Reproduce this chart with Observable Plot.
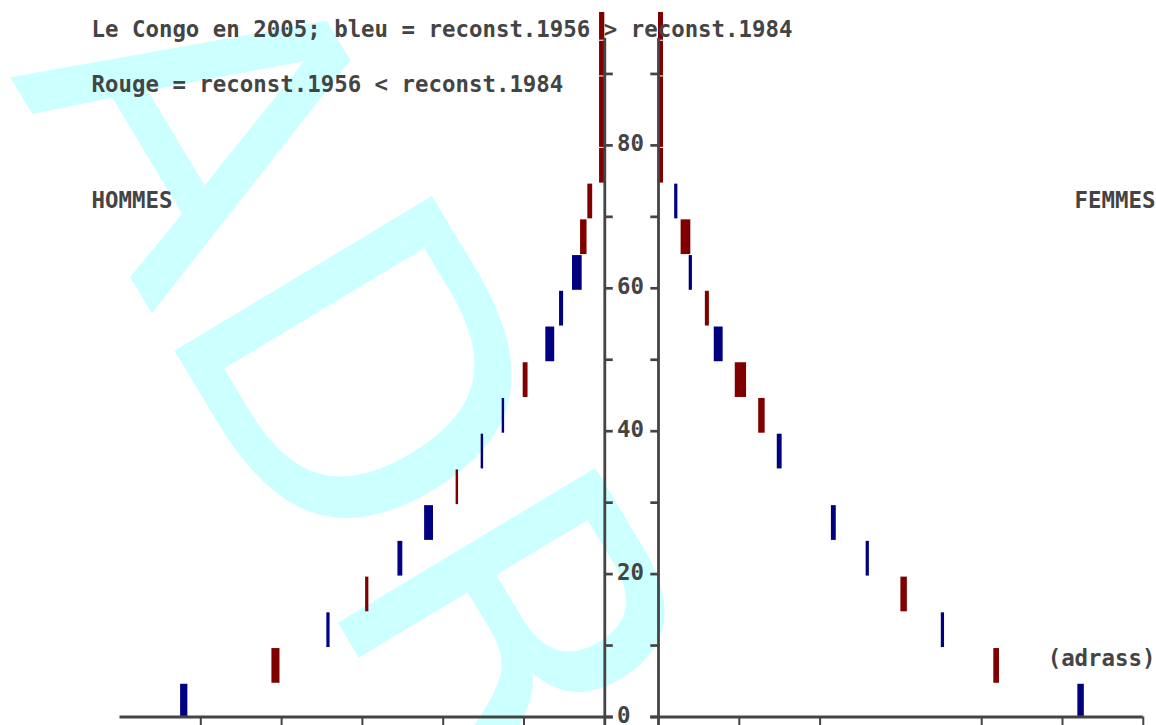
<!DOCTYPE html>
<html>
<head>
<meta charset="utf-8">
<script src="https://cdn.jsdelivr.net/npm/d3@7"></script>
<script src="https://cdn.jsdelivr.net/npm/@observablehq/plot@0.6"></script>
<style>
  html, body { margin: 0; padding: 0; background: white; }
  #chart { width: 1156px; height: 725px; overflow: hidden; }
</style>
</head>
<body>
<div id="chart"></div>
<script>
// Age groups (years)
const ageStart = [0, 5, 10, 15, 20, 25, 30, 35, 40, 45, 50, 55, 60, 65, 70, 75, 80, 90, 95];
const ageEnd   = [5, 10, 15, 20, 25, 30, 35, 40, 45, 50, 55, 60, 65, 70, 75, 80, 90, 95, 100];

// Men (HOMMES): reconstruction 1956 vs reconstruction 1984
const hommes1956 = [5.25, 4.02, 3.44, 2.92, 2.56, 2.23, 1.81, 1.53, 1.27, 0.95, 0.73, 0.56, 0.40, 0.22, 0.15, 0.00, 0.00, 0.00, 0.00];
const hommes1984 = [5.16, 4.12, 3.40, 2.96, 2.50, 2.12, 1.84, 1.50, 1.24, 1.01, 0.62, 0.51, 0.28, 0.30, 0.21, 0.065, 0.065, 0.065, 0.065];

// Women (FEMMES)
const femmes1956 = [5.27, 4.15, 3.54, 3.00, 2.61, 2.20, 1.84, 1.53, 1.24, 0.95, 0.80, 0.58, 0.42, 0.28, 0.24, 0.00, 0.00, 0.00, 0.00];
const femmes1984 = [5.19, 4.22, 3.50, 3.08, 2.57, 2.14, 1.84, 1.47, 1.32, 1.09, 0.69, 0.63, 0.38, 0.40, 0.20, 0.062, 0.062, 0.062, 0.062];

// Axis ticks
const yTicks = [0, 10, 20, 30, 40, 50, 60, 70, 80, 90];
const yTickLabels = [0, 20, 40, 60, 80];
const hommesXTicks = [1, 2, 3, 4, 5];
const femmesXTicks = [1, 2, 4, 5, 6];
const xMax = 6;

const titre1 = "Le Congo en 2005; bleu = reconst.1956 > reconst.1984";
const titre2 = "Rouge = reconst.1956 < reconst.1984";
const labelHommes = "HOMMES";
const labelFemmes = "FEMMES";
const signature = "(adrass)";
const filigrane = "ADR";

// half gap between the two pyramids, in x units
const g = 0.3323;

function rows(v1956, v1984) {
  return ageStart.map((a, i) => ({
    a0: a, a1: ageEnd[i], v56: v1956[i], v84: v1984[i],
    couleur: v1956[i] > v1984[i] ? "bleu" : "rouge"
  })).filter(d => d.v56 !== d.v84);
}
const H = rows(hommes1956, hommes1984);
const F = rows(femmes1956, femmes1984);

const ink = "#444444";
const mono = "DejaVu Sans Mono";
const txt = {fontFamily: mono, fontWeight: "bold", fontSize: 22.4, fill: ink, lineAnchor: "bottom", frameAnchor: "top-left"};
const ML = 119.5, MT = 12;

const chart = Plot.plot({
  width: 1156,
  height: 725,
  marginLeft: ML,
  marginRight: 13.2,
  marginTop: MT,
  marginBottom: 8.5,
  x: {domain: [-(xMax + g), xMax + g], axis: null},
  y: {domain: [0, 98.6], axis: null},
  color: {domain: ["bleu", "rouge"], range: ["#000080", "#800000"]},
  style: {background: "white"},
  marks: [
    // watermark
    Plot.text([filigrane], {frameAnchor: "top-left", dx: 8 - ML, dy: 74 - MT, rotate: 59,
      fontSize: 412, fontFamily: "DejaVu Sans", fill: "#ccffff", textAnchor: "start", lineAnchor: "bottom", text: d => d}),
    // bars
    Plot.rect(H, {x1: d => -(d.v56 + g), x2: d => -(d.v84 + g), y1: "a0", y2: "a1", fill: "couleur",
      insetTop: 3, insetBottom: -2, clip: true}),
    Plot.rect(F, {x1: d => d.v56 + g, x2: d => d.v84 + g, y1: "a0", y2: "a1", fill: "couleur",
      insetTop: 3, insetBottom: -2, clip: true}),
    // vertical axes
    Plot.ruleX([-g, g], {x: d => d, y1: 95, y2: -2, stroke: ink, strokeWidth: 2.8}),
    // y ticks
    Plot.ruleY(yTicks, {y: d => d, x1: -g, x2: -g + 0.105, stroke: ink, strokeWidth: 2.7}),
    Plot.ruleY(yTicks, {y: d => d, x1: g, x2: g - 0.095, stroke: ink, strokeWidth: 2.7}),
    // bottom axes
    Plot.ruleY([0], {x1: -(xMax + g), x2: -g + 0.105, stroke: ink, strokeWidth: 3}),
    Plot.ruleY([0], {x1: g - 0.095, x2: xMax + g, stroke: ink, strokeWidth: 3}),
    Plot.ruleX(hommesXTicks, {x: d => -(d + g), y1: 0, y2: -2, stroke: ink, strokeWidth: 2}),
    Plot.ruleX(femmesXTicks, {x: d => d + g, y1: 0, y2: -2, stroke: ink, strokeWidth: 2}),
    // y tick labels
    Plot.text(yTickLabels, {x: -g + 0.151, y: d => d, text: d => String(d), textAnchor: "start",
      lineAnchor: "bottom", dy: 5.5, fontFamily: mono, fontWeight: "bold", fontSize: 22.4, fill: ink}),
    // titles and labels
    Plot.text([titre1], {...txt, text: d => d, textAnchor: "start", dx: 91 - ML, dy: 36.5 - MT}),
    Plot.text([titre2], {...txt, text: d => d, textAnchor: "start", dx: 91 - ML, dy: 91.7 - MT}),
    Plot.text([labelHommes], {...txt, text: d => d, textAnchor: "start", dx: 91 - ML, dy: 207 - MT}),
    Plot.text([labelFemmes], {...txt, frameAnchor: "top-right", text: d => d, textAnchor: "end", dx: 1155 - (1156 - 13.2), dy: 207 - MT}),
    Plot.text([signature], {...txt, frameAnchor: "top-right", text: d => d, textAnchor: "end", dx: 1155 - (1156 - 13.2), dy: 665 - MT})
  ]
});
document.getElementById("chart").appendChild(chart);
</script>
</body>
</html>
